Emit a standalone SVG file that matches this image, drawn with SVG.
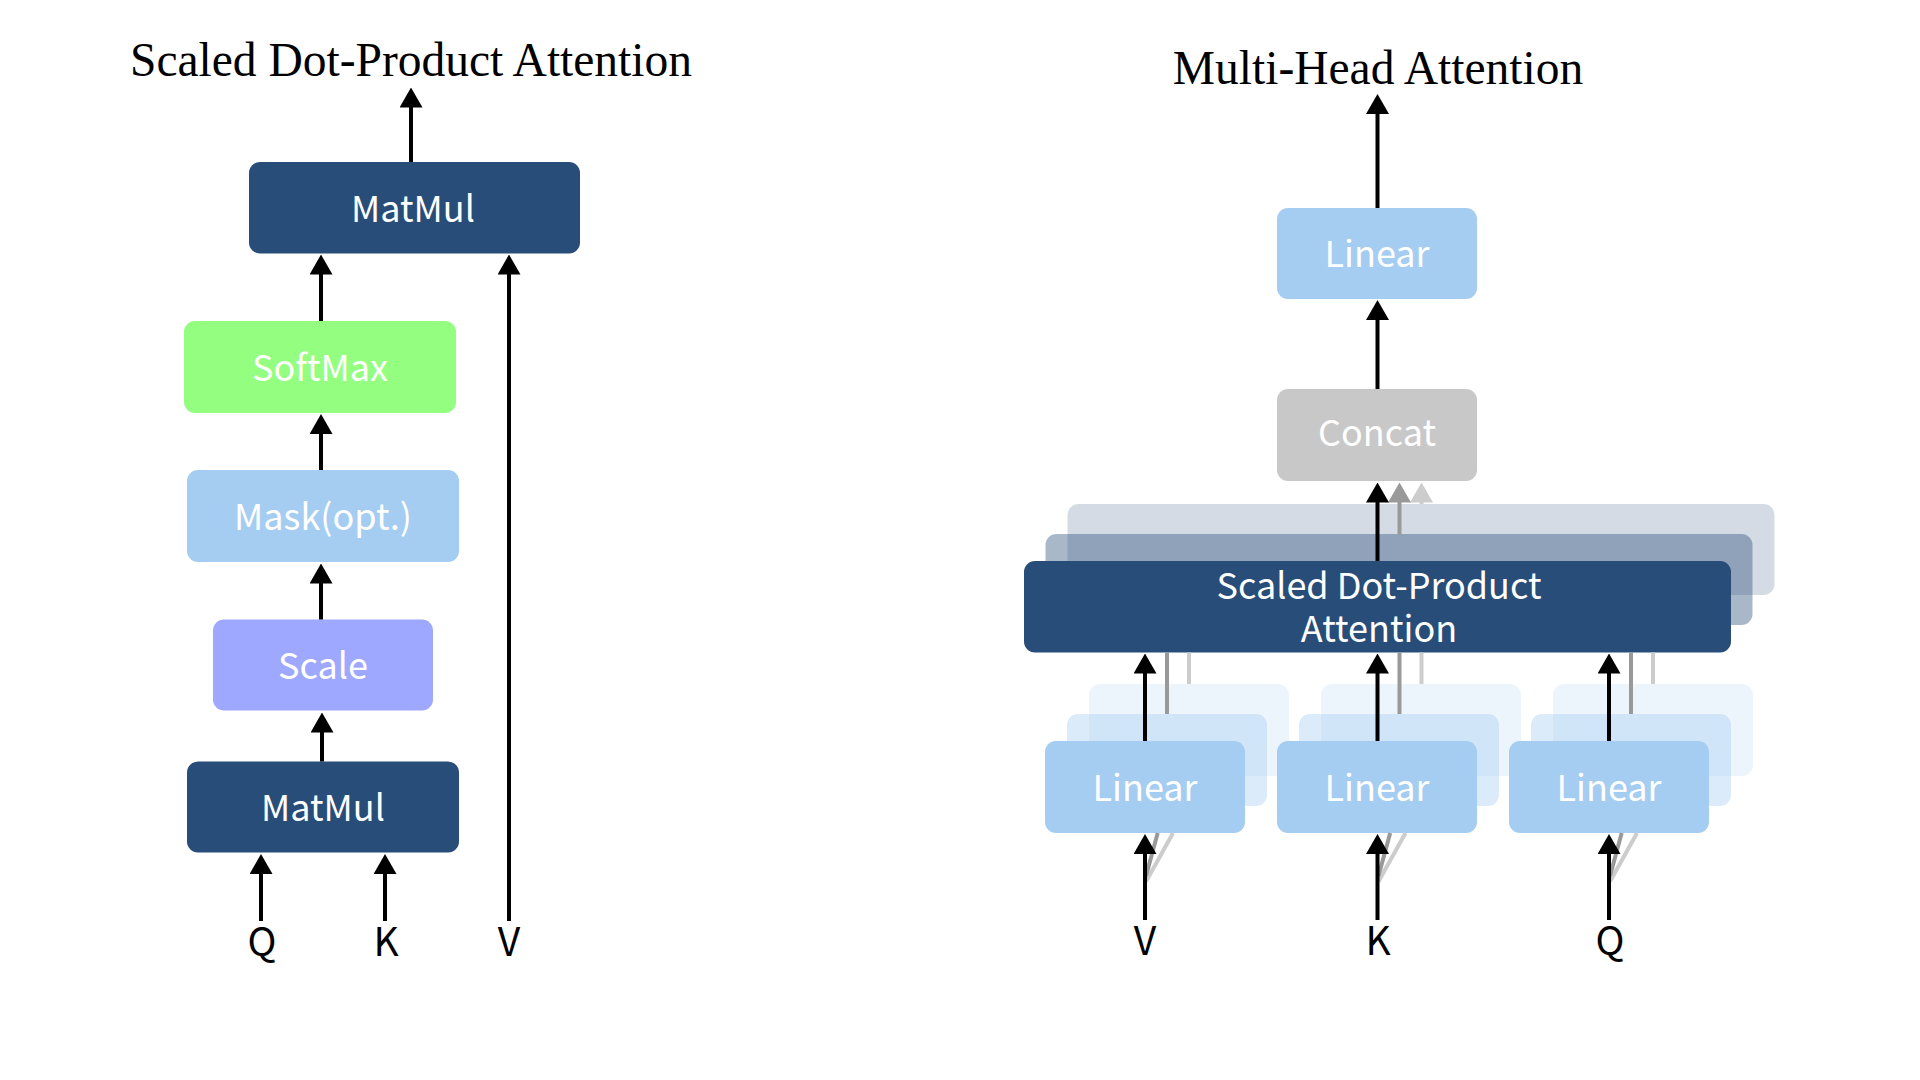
<svg xmlns="http://www.w3.org/2000/svg" width="1920" height="1080" viewBox="0 0 1920 1080">
<style>
  .title { font-family: "Liberation Serif", serif; font-size: 47.5px; fill: #000; text-anchor: middle; }
  .t { font-family: "Noto Sans CJK SC", "Noto Sans", sans-serif; font-size: 36px; fill: #fff; text-anchor: middle; }
  .lbl { font-family: "Noto Sans CJK SC", "Noto Sans", sans-serif; font-size: 39px; fill: #000; text-anchor: middle; }
  .dark { fill: #284D78; }
  .blue { fill: #A4CDF1; }
  .green { fill: #94FE80; }
  .violet { fill: #9EA8FE; }
  .gray { fill: #C8C8C8; }
  .o2 { opacity: 0.2; }
  .o4 { opacity: 0.4; }
  .ck { stroke: #000; stroke-width: 4; fill: none; }
  .cd { stroke: #999999; stroke-width: 4; fill: none; }
  .cl { stroke: #CCCCCC; stroke-width: 4; fill: none; }
</style>
<defs>
  <marker id="ak" viewBox="0 0 20 23" markerUnits="userSpaceOnUse" markerWidth="20" markerHeight="23" refX="1" refY="11.5" orient="auto">
    <path d="M0,0 L20,11.5 L0,23 Z" fill="#000"/>
  </marker>
  <marker id="ad" viewBox="0 0 20 23" markerUnits="userSpaceOnUse" markerWidth="20" markerHeight="23" refX="1" refY="11.5" orient="auto">
    <path d="M0,0 L20,11.5 L0,23 Z" fill="#999999"/>
  </marker>
  <marker id="al" viewBox="0 0 20 23" markerUnits="userSpaceOnUse" markerWidth="20" markerHeight="23" refX="1" refY="11.5" orient="auto">
    <path d="M0,0 L20,11.5 L0,23 Z" fill="#CCCCCC"/>
  </marker>
</defs>
<rect width="1920" height="1080" fill="#fff"/>

<!-- Left: Scaled Dot-Product Attention -->
<text class="title" x="411" y="76">Scaled Dot-Product Attention</text>
<g id="matmul-top"><rect class="dark" x="249" y="162" width="331" height="91.5" rx="11"/><text class="t" x="413" y="222">MatMul</text></g>
<g id="softmax"><rect class="green" x="184" y="321" width="272" height="92" rx="11"/><text class="t" x="320" y="381">SoftMax</text></g>
<g id="mask"><rect class="blue" x="187" y="470" width="272" height="92" rx="11"/><text class="t" x="323" y="530">Mask(opt.)</text></g>
<g id="scale"><rect class="violet" x="213" y="619.5" width="220" height="91" rx="11"/><text class="t" x="323" y="679">Scale</text></g>
<g id="matmul-bottom"><rect class="dark" x="187" y="761.5" width="272" height="91" rx="11"/><text class="t" x="323" y="821">MatMul</text></g>
<g id="in-q"><text class="lbl" x="262" y="956">Q</text></g>
<g id="in-k"><text class="lbl" x="386" y="956">K</text></g>
<g id="in-v"><text class="lbl" x="509" y="956">V</text></g>

<!-- Right: Multi-Head Attention -->
<text class="title" x="1378" y="84">Multi-Head Attention</text>
<g id="linear-out"><rect class="blue" x="1277" y="208" width="200" height="91" rx="11"/><text class="t" x="1377" y="267">Linear</text></g>
<g id="concat"><rect class="gray" x="1277" y="389" width="200" height="92" rx="11"/><text class="t" x="1377" y="446">Concat</text></g>
<g id="sdpa-heads">
  <rect class="dark o2" x="1067.5" y="504" width="707" height="91" rx="11"/>
  <rect class="dark o4" x="1045.5" y="534" width="707" height="91" rx="11"/>
  <rect class="dark" x="1024" y="561" width="707" height="91.5" rx="11"/>
  <text class="t" x="1379" y="599"><tspan x="1379" y="599">Scaled Dot-Product</tspan><tspan x="1379" y="642">Attention</tspan></text>
</g>
<g id="linear-v">
  <rect class="blue o2" x="1089" y="684" width="200" height="92" rx="11"/>
  <rect class="blue o4" x="1067" y="714" width="200" height="92" rx="11"/>
  <rect class="blue" x="1045" y="741" width="200" height="92" rx="11"/>
  <text class="t" x="1145" y="801">Linear</text>
</g>
<g id="linear-k">
  <rect class="blue o2" x="1321" y="684" width="200" height="92" rx="11"/>
  <rect class="blue o4" x="1299" y="714" width="200" height="92" rx="11"/>
  <rect class="blue" x="1277" y="741" width="200" height="92" rx="11"/>
  <text class="t" x="1377" y="801">Linear</text>
</g>
<g id="linear-q">
  <rect class="blue o2" x="1553" y="684" width="200" height="92" rx="11"/>
  <rect class="blue o4" x="1531" y="714" width="200" height="92" rx="11"/>
  <rect class="blue" x="1509" y="741" width="200" height="92" rx="11"/>
  <text class="t" x="1609" y="801">Linear</text>
</g>
<g id="mh-in-v"><text class="lbl" x="1145" y="955">V</text></g>
<g id="mh-in-k"><text class="lbl" x="1378" y="955">K</text></g>
<g id="mh-in-q"><text class="lbl" x="1610" y="955">Q</text></g>

<g id="connectors">
  <!-- left -->
  <line class="ck" x1="411" y1="162" x2="411" y2="106.5" marker-end="url(#ak)"/>
  <line class="ck" x1="321" y1="321" x2="321" y2="273.5" marker-end="url(#ak)"/>
  <line class="ck" x1="321" y1="470" x2="321" y2="433" marker-end="url(#ak)"/>
  <line class="ck" x1="321" y1="619.5" x2="321" y2="582.5" marker-end="url(#ak)"/>
  <line class="ck" x1="322" y1="761.5" x2="322" y2="731.5" marker-end="url(#ak)"/>
  <line class="ck" x1="261" y1="921" x2="261" y2="873" marker-end="url(#ak)"/>
  <line class="ck" x1="385" y1="921" x2="385" y2="873" marker-end="url(#ak)"/>
  <line class="ck" x1="509" y1="921" x2="509" y2="273.5" marker-end="url(#ak)"/>
  <!-- right: output -->
  <line class="ck" x1="1377.5" y1="208" x2="1377.5" y2="113" marker-end="url(#ak)"/>
  <line class="ck" x1="1377.5" y1="389" x2="1377.5" y2="319" marker-end="url(#ak)"/>
  <!-- heads to concat -->
  <line class="cl" x1="1421.5" y1="504" x2="1421.5" y2="501.5" marker-end="url(#al)"/>
  <line class="cd" x1="1399.5" y1="534" x2="1399.5" y2="501.5" marker-end="url(#ad)"/>
  <line class="ck" x1="1377.5" y1="561" x2="1377.5" y2="501.5" marker-end="url(#ak)"/>
  <!-- linear to sdpa -->
  <line class="cl" x1="1189" y1="684" x2="1189" y2="652.5"/>
  <line class="cd" x1="1167" y1="714" x2="1167" y2="652.5"/>
  <line class="ck" x1="1145" y1="741" x2="1145" y2="672.5" marker-end="url(#ak)"/>
  <line class="cl" x1="1421.5" y1="684" x2="1421.5" y2="652.5"/>
  <line class="cd" x1="1399.5" y1="714" x2="1399.5" y2="652.5"/>
  <line class="ck" x1="1377.5" y1="741" x2="1377.5" y2="672.5" marker-end="url(#ak)"/>
  <line class="cl" x1="1653" y1="684" x2="1653" y2="652.5"/>
  <line class="cd" x1="1631" y1="714" x2="1631" y2="652.5"/>
  <line class="ck" x1="1609" y1="741" x2="1609" y2="672.5" marker-end="url(#ak)"/>
  <!-- inputs to linear -->
  <line class="cl" x1="1146" y1="881.5" x2="1173" y2="833"/>
  <line class="cd" x1="1146" y1="876" x2="1157.7" y2="833"/>
  <line class="ck" x1="1145" y1="920" x2="1145" y2="853" marker-end="url(#ak)"/>
  <line class="cl" x1="1378.5" y1="881.5" x2="1405.5" y2="833"/>
  <line class="cd" x1="1378.5" y1="876" x2="1390.2" y2="833"/>
  <line class="ck" x1="1377.5" y1="920" x2="1377.5" y2="853" marker-end="url(#ak)"/>
  <line class="cl" x1="1610" y1="881.5" x2="1637" y2="833"/>
  <line class="cd" x1="1610" y1="876" x2="1621.7" y2="833"/>
  <line class="ck" x1="1609" y1="920" x2="1609" y2="853" marker-end="url(#ak)"/>
</g>
</svg>
